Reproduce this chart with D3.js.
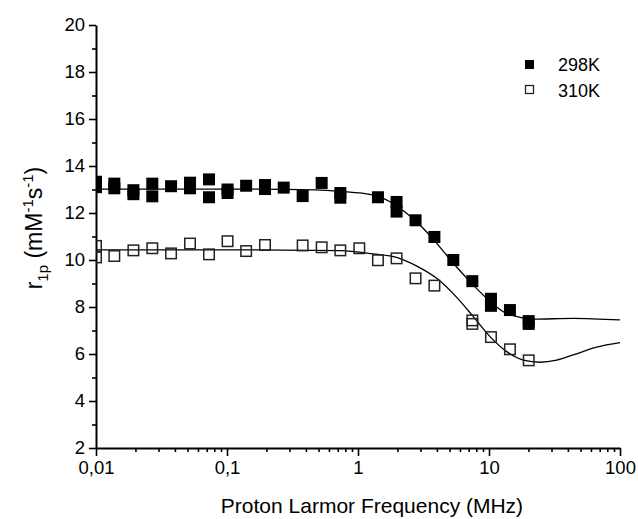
<!DOCTYPE html>
<html>
<head>
<meta charset="utf-8">
<script src="https://cdn.jsdelivr.net/npm/d3@7"></script>
<style>
  html, body { margin: 0; padding: 0; background: #fff; }
  svg { display: block; font-family: "Liberation Sans", Arial, sans-serif; }
</style>
</head>
<body>
<svg id="chart" width="638" height="519"></svg>
<script>
// ---- data ----
const freq298 = [0.01, 0.01, 0.0138, 0.0138, 0.0193, 0.0193, 0.0269, 0.0269, 0.0374, 0.0522, 0.0522,
  0.0729, 0.0729, 0.101, 0.101, 0.140, 0.195, 0.195, 0.271, 0.378, 0.528, 0.733, 0.733,
  1.42, 1.97, 1.97, 2.75, 3.83, 5.34, 7.46, 10.35, 10.35, 14.45, 20.1, 20.1];
const r298 = [13.33, 13.1, 13.25, 13.05, 12.97, 12.8, 13.25, 12.71, 13.14, 13.29, 13.05,
  13.43, 12.67, 13.0, 12.85, 13.16, 13.19, 13.02, 13.08, 12.72, 13.28, 12.85, 12.65,
  12.67, 12.47, 12.06, 11.69, 10.98, 10.0, 9.1, 8.35, 8.05, 7.87, 7.4, 7.28];

const freq310 = [0.01, 0.01, 0.0138, 0.0193, 0.0269, 0.0374, 0.0522, 0.0729, 0.101, 0.140, 0.195,
  0.378, 0.528, 0.733, 1.023, 1.42, 1.97, 2.75, 3.83, 7.46, 7.46, 10.35, 14.45, 20.1];
const r310 = [10.6, 10.11, 10.17, 10.41, 10.5, 10.28, 10.7, 10.24, 10.8, 10.38, 10.64,
  10.62, 10.54, 10.41, 10.5, 9.99, 10.07, 9.22, 8.91, 7.43, 7.28, 6.72, 6.2, 5.73];

// fitted curves
const fitFreq298 = [0.01, 0.14, 0.475, 0.73, 1.3, 1.755, 2.35, 2.97, 3.99, 5.34, 7.16, 9.6, 12.86, 17.25, 21.7, 43.8, 100];
const fit298 = [13.02, 13.02, 12.98, 12.92, 12.77, 12.48, 11.99, 11.49, 10.71, 9.86, 9.08, 8.37, 7.8, 7.56, 7.48, 7.52, 7.45];
const fitFreq310 = [0.01, 0.14, 0.73, 1.3, 1.97, 2.81, 3.99, 5.67, 7.59, 10.18, 13.65, 18.28, 24.5, 32.9, 43.8, 66.4, 100];
const fit310 = [10.43, 10.43, 10.4, 10.26, 10.11, 9.74, 9.22, 8.41, 7.59, 6.74, 6.1, 5.74, 5.65, 5.74, 5.96, 6.29, 6.48];

const xTickValues = [0.01, 0.1, 1, 10, 100];
const xTickLabels = ["0,01", "0,1", "1", "10", "100"];
const yTickValues = [2, 4, 6, 8, 10, 12, 14, 16, 18, 20];
const seriesNames = ["298K", "310K"];

// ---- layout ----
const svg = d3.select("#chart");
const mLeft = 96, mRight = 620, mTop = 25, mBottom = 448;

const x = d3.scaleLog().domain([0.01, 100]).range([mLeft, mRight]);
const y = d3.scaleLinear().domain([2, 20]).range([mBottom, mTop]);

svg.append("defs").append("clipPath").attr("id", "plotClip")
  .append("rect").attr("x", mLeft).attr("y", mTop - 10).attr("width", mRight - mLeft + 10).attr("height", mBottom - mTop + 10);

// minor ticks
const xMinor = [];
[0.01, 0.1, 1, 10].forEach(d => { for (let k = 2; k <= 9; k++) xMinor.push(d * k); });
const yMinor = d3.range(3, 20, 2);

const gx = svg.append("g").attr("transform", `translate(0,${mBottom})`);
gx.call(d3.axisBottom(x).tickValues(xMinor).tickSize(4).tickFormat(""));
gx.call(g => g.select(".domain").remove());
const gxMaj = svg.append("g").attr("transform", `translate(0,${mBottom})`)
  .call(d3.axisBottom(x).tickValues(xTickValues).tickSize(8).tickSizeOuter(0)
    .tickFormat((d, i) => xTickLabels[i]));

const gy = svg.append("g").attr("transform", `translate(${mLeft},0)`);
gy.call(d3.axisLeft(y).tickValues(yMinor).tickSize(4).tickFormat(""));
gy.call(g => g.select(".domain").remove());
const gyMaj = svg.append("g").attr("transform", `translate(${mLeft},0)`)
  .call(d3.axisLeft(y).tickValues(yTickValues).tickSize(7).tickSizeOuter(0).tickFormat(d3.format("d")));

svg.selectAll(".tick line").attr("stroke", "#000").attr("stroke-width", 1.6);
svg.selectAll(".domain").attr("stroke", "#000").attr("stroke-width", 2);
gxMaj.selectAll(".tick text").attr("font-size", 18.5).attr("fill", "#000")
  .attr("font-family", "Liberation Sans, Arial, sans-serif").attr("y", 13).attr("dy", "0.71em");
gyMaj.selectAll(".tick text").attr("font-size", 18.5).attr("fill", "#000")
  .attr("font-family", "Liberation Sans, Arial, sans-serif").attr("x", -11);

// ---- fit curves ----
const plot = svg.append("g").attr("clip-path", "url(#plotClip)");
const line = d3.line().x(d => x(d[0])).y(d => y(d[1])).curve(d3.curveMonotoneX);
plot.append("path").datum(fitFreq298.map((f, i) => [f, fit298[i]]))
  .attr("d", line).attr("fill", "none").attr("stroke", "#000").attr("stroke-width", 1.3);
plot.append("path").datum(fitFreq310.map((f, i) => [f, fit310[i]]))
  .attr("d", line).attr("fill", "none").attr("stroke", "#000").attr("stroke-width", 1.3);

// ---- markers ----
const S = 12;
plot.selectAll("rect.p310").data(freq310.map((f, i) => [f, r310[i]])).enter().append("rect")
  .attr("class", "p310")
  .attr("x", d => x(d[0]) - S / 2 + 0.75).attr("y", d => y(d[1]) - S / 2 + 0.75)
  .attr("width", S - 1.5).attr("height", S - 1.5)
  .attr("fill", "none").attr("stroke", "#222").attr("stroke-width", 1.5);
plot.selectAll("rect.p298").data(freq298.map((f, i) => [f, r298[i]])).enter().append("rect")
  .attr("class", "p298")
  .attr("x", d => x(d[0]) - S / 2).attr("y", d => y(d[1]) - S / 2)
  .attr("width", S).attr("height", S).attr("fill", "#000");

// ---- legend ----
const lg = svg.append("g");
lg.append("rect").attr("x", 525).attr("y", 60).attr("width", 9).attr("height", 9).attr("fill", "#000");
lg.append("rect").attr("x", 525.5).attr("y", 85.5).attr("width", 8).attr("height", 8)
  .attr("fill", "none").attr("stroke", "#222").attr("stroke-width", 1.3);
lg.append("text").attr("x", 558).attr("y", 71).attr("font-size", 18).text(seriesNames[0]);
lg.append("text").attr("x", 558).attr("y", 97).attr("font-size", 18).text(seriesNames[1]);

// ---- axis titles ----
svg.append("text").attr("x", 372).attr("y", 513)
  .attr("text-anchor", "middle").attr("font-size", 21).attr("fill", "#000")
  .text("Proton Larmor Frequency (MHz)");

const yt = svg.append("text").attr("transform", "translate(42,228) rotate(-90)")
  .attr("text-anchor", "middle").attr("font-size", 23).attr("fill", "#000");
yt.append("tspan").text("r");
yt.append("tspan").attr("font-size", 15).attr("dy", 6).text("1p");
yt.append("tspan").attr("dy", -6).text(" (mM");
yt.append("tspan").attr("font-size", 15).attr("dy", -9).text("-1");
yt.append("tspan").attr("dy", 9).text("s");
yt.append("tspan").attr("font-size", 15).attr("dy", -9).text("-1");
yt.append("tspan").attr("dy", 9).text(")");
</script>
</body>
</html>
